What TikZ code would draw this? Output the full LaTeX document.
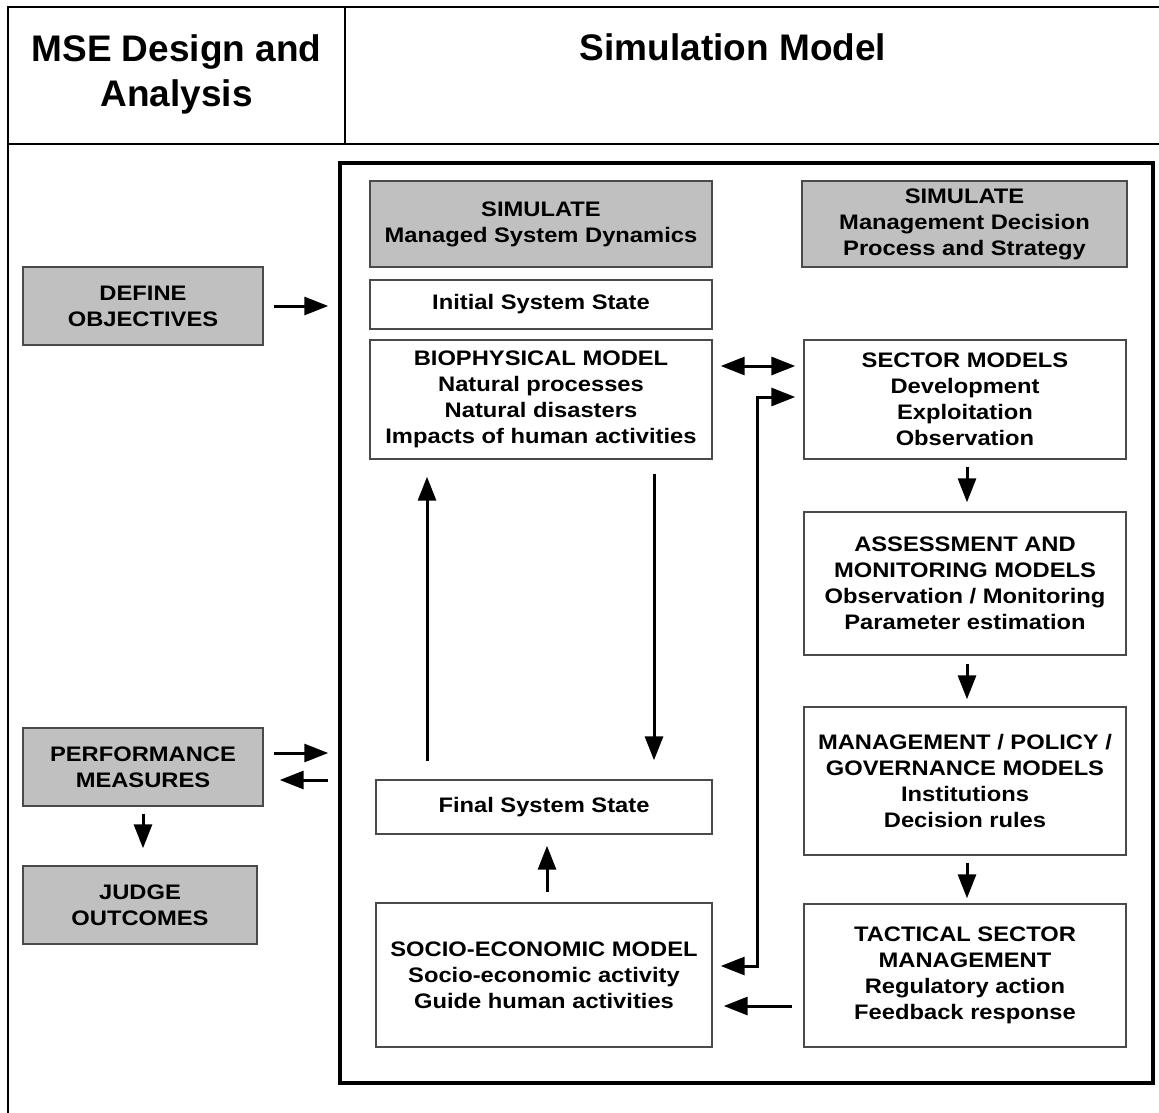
\documentclass[tikz,border=0pt]{standalone}
\usepackage{fontspec}
\setmainfont{Liberation Sans}
\newfontfamily\bodyfont[FakeStretch=1.13]{Liberation Sans}
\newfontfamily\headfont{Liberation Sans}
\usetikzlibrary{arrows.meta,calc}
\definecolor{boxgray}{HTML}{C0C0C0}
\definecolor{edge}{HTML}{4A4A4A}

\begin{document}
\begin{tikzpicture}[x=1pt,y=-1pt,
  box/.style={draw=edge, line width=1.4pt, fill=white, inner sep=0pt, align=center,
    font=\bodyfont\bfseries\fontsize{21}{26}\selectfont},
  gbox/.style={box, fill=boxgray},
  head/.style={inner sep=0pt, align=center, font=\headfont\bfseries\fontsize{37}{45}\selectfont},
  rule/.style={line width=2.5pt},
  arr/.style={line width=3pt, -{Triangle[length=24pt,width=18pt]}},
  dbl/.style={line width=3pt, {Triangle[length=24pt,width=18pt]}-{Triangle[length=24pt,width=18pt]}}
]
\useasboundingbox (0,0) rectangle (1159,1113);
\fill[white] (0,0) rectangle (1159,1113);

% table lines
\draw[rule] (1159,7) -- (8,7) -- (8,1113);
\draw[rule] (345,7) -- (345,144);
\draw[rule] (8,144) -- (1159,144);

% column headings
\node[head, anchor=north] (hmse) at (176.5,34) {MSE Design and\\Analysis};
\node[head, anchor=base] (hsim) at (733,61) {Simulation Model};

% simulation frame
\node[draw, line width=3.5pt, minimum width=813pt, minimum height=920pt, inner sep=0pt] (sim) at (746.5,623) {};

% left column
\node[gbox, minimum width=240pt, minimum height=78pt] (define) at (143,306) {DEFINE\\OBJECTIVES};
\node[gbox, minimum width=240pt, minimum height=78pt] (perf) at (143,767) {PERFORMANCE\\MEASURES};
\node[gbox, minimum width=234pt, minimum height=78pt] (judge) at (140,905) {JUDGE\\OUTCOMES};

% managed system dynamics
\node[gbox, minimum width=342pt, minimum height=86pt] (simA) at (541,224) {SIMULATE\\Managed System Dynamics};
\node[box, minimum width=342pt, minimum height=49pt] (init) at (541,304.5) {Initial System State};
\node[box, minimum width=342pt, minimum height=119pt] (bio) at (541,399.5) {BIOPHYSICAL MODEL\\Natural processes\\Natural disasters\\Impacts of human activities};
\node[box, minimum width=336pt, minimum height=54pt] (final) at (544,807) {Final System State};
\node[box, minimum width=336pt, minimum height=144pt] (socio) at (544,975) {SOCIO-ECONOMIC MODEL\\Socio-economic activity\\Guide human activities};

% management decision process
\node[gbox, minimum width=325pt, minimum height=86pt] (simB) at (964.5,224) {SIMULATE\\Management Decision\\Process and Strategy};
\node[box, minimum width=322pt, minimum height=119pt] (sector) at (965,399.5) {SECTOR MODELS\\Development\\Exploitation\\Observation};
\node[box, minimum width=322pt, minimum height=143pt] (assess) at (965,583.5) {ASSESSMENT AND\\MONITORING MODELS\\Observation / Monitoring\\Parameter estimation};
\node[box, minimum width=322pt, minimum height=148pt] (mgmt) at (965,781) {MANAGEMENT / POLICY /\\GOVERNANCE MODELS\\Institutions\\Decision rules};
\node[box, minimum width=322pt, minimum height=143pt] (tact) at (965,975.5) {TACTICAL SECTOR\\MANAGEMENT\\Regulatory action\\Feedback response};

% connectors: analysis side
\draw[arr, shorten <=10pt, shorten >=10pt] (define.east) -- (define.east -| sim.west);
\draw[arr, shorten <=10pt, shorten >=10pt] ([yshift=14pt]perf.east) -- ([yshift=14pt]perf.east -| sim.west);
\draw[arr, shorten <=10pt, shorten >=16pt] ([yshift=-13pt]perf.east -| sim.west) -- ([yshift=-13pt]perf.east);
\draw[arr, shorten <=7pt, shorten >=17pt] (perf.south) -- (perf.south |- judge.north);

% connectors: system dynamics loop
\draw[arr, shorten <=18pt, shorten >=17pt] ([xshift=-117pt]final.north) -- ([xshift=-117pt]final.north |- bio.south);
\draw[arr, shorten <=14pt, shorten >=19pt] ([xshift=113pt]bio.south) -- ([xshift=113pt]bio.south |- final.north);
\draw[arr, shorten <=10pt, shorten >=11pt] ([xshift=3pt]socio.north) -- ([xshift=3pt]socio.north |- final.south);

% connectors: between the two sides
\draw[dbl, shorten <=8pt, shorten >=8pt] ([yshift=33.5pt]bio.east) -- ([yshift=33.5pt]bio.east -| sector.west);
\draw[dbl, shorten <=8pt, shorten >=8pt] ([yshift=9pt]socio.east) -- ++(45,0) |- ([yshift=2.5pt]sector.west);
\draw[arr, shorten <=11pt, shorten >=11pt] ([yshift=-30.5pt]tact.west) -- ([yshift=-30.5pt]tact.west -| socio.east);

% connectors: decision chain
\draw[arr, shorten <=7pt, shorten >=9pt] ([xshift=2pt]sector.south) -- ([xshift=2pt]sector.south |- assess.north);
\draw[arr, shorten <=8pt, shorten >=7pt] ([xshift=2pt]assess.south) -- ([xshift=2pt]assess.south |- mgmt.north);
\draw[arr, shorten <=7pt, shorten >=5pt] ([xshift=2pt]mgmt.south) -- ([xshift=2pt]mgmt.south |- tact.north);
\end{tikzpicture}
\end{document}
